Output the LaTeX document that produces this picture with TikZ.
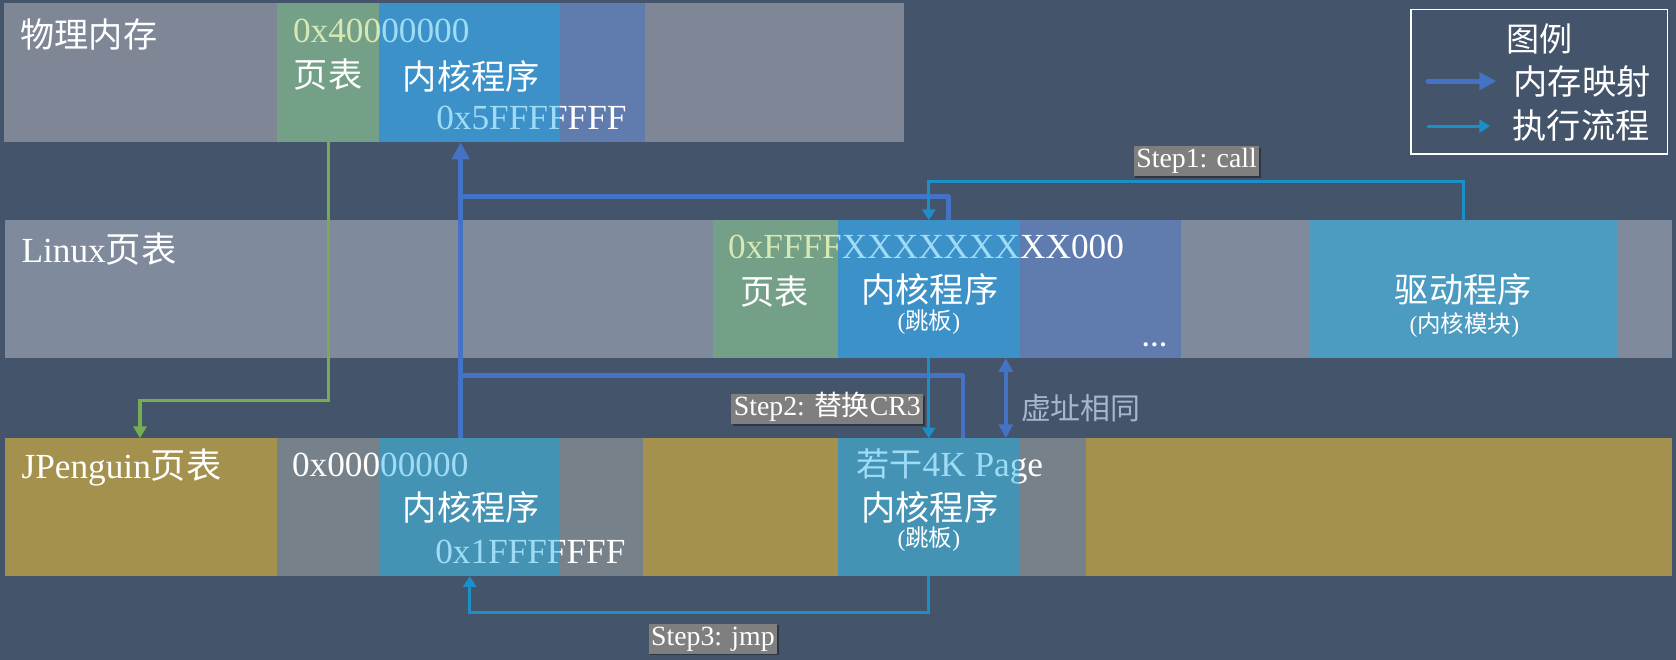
\documentclass[tikz,border=0pt]{standalone}
\usepackage{fontspec}
\setmainfont{Liberation Serif}
\newfontfamily\cjk{Noto Sans CJK SC}
\usetikzlibrary{arrows.meta,shadows}
\definecolor{bg}{HTML}{44546A}
\definecolor{bandtop}{HTML}{7F8696}
\definecolor{bandmid}{HTML}{7F8B9D}
\definecolor{ptgreen}{HTML}{74A088}
\definecolor{kblue}{HTML}{3C91C9}
\definecolor{kpurple}{HTML}{607CAF}
\definecolor{drvteal}{HTML}{4C9BC1}
\definecolor{gold}{HTML}{A4914E}
\definecolor{gray3}{HTML}{76818A}
\definecolor{teal3}{HTML}{4593B4}
\definecolor{mapc}{HTML}{4472C4}
\definecolor{flowc}{HTML}{1C8FC8}
\definecolor{greenline}{HTML}{78AC52}
\definecolor{paleyel}{HTML}{D6E9B3}
\definecolor{lblue}{HTML}{9EDCF6}
\definecolor{virt}{HTML}{A9B5CA}
\definecolor{stepgray}{HTML}{7F7F7F}
\newcommand\zh[1]{{\cjk #1}}
% block: name, x1, y1, x2, y2, colour
\newcommand\blk[6]{\node[blkbox,fill=#6,minimum width={(#4-#2)*1pt},minimum height={(#5-#3)*1pt}] (#1) at ({(#2+#4)/2},{(#3+#5)/2}) {};}
% text coloured by region: name, pos, text, x1, x2, c1, c2, c3
\newcommand\tricolor[8]{%
\begin{scope}\clip (0,0) rectangle (#4,617);\node[hexlab,text=#6] (#1a) at #2 {#3};\end{scope}
\begin{scope}\clip (#4,0) rectangle (#5,617);\node[hexlab,text=#7] (#1b) at #2 {#3};\end{scope}
\begin{scope}\clip (#5,0) rectangle (1568,617);\node[hexlab,text=#8] (#1c) at #2 {#3};\end{scope}}
\begin{document}
\begin{tikzpicture}[x=1pt,y=-1pt,
  blkbox/.style={inner sep=0pt,outer sep=0pt,draw=none},
  hexlab/.style={anchor=base west,inner sep=0pt,font=\fontsize{33}{38}\selectfont},
  zhbig/.style={inner sep=0pt,text=white,font=\cjk\fontsize{32}{36}\selectfont},
  zhsmall/.style={inner sep=0pt,text=white,font=\fontsize{22}{24}\selectfont},
  rowlab/.style={anchor=base west,inner sep=0pt,text=white,font=\fontsize{33}{38}\selectfont},
  steplab/.style={fill=stepgray,text=white,font=\fontsize{26}{28}\selectfont,inner xsep=2.5pt,inner ysep=2pt,text height=18pt,text depth=6pt,drop shadow={shadow xshift=1.5pt,shadow yshift=-1.5pt,fill=black,opacity=0.35}},
  mapline/.style={draw=mapc,line width=4.5pt},
  flowline/.style={draw=flowc,line width=3pt},
  maptip/.style={-{Triangle[length=16pt,width=16pt]}},
  flowtip/.style={-{Triangle[length=10pt,width=12pt]}}]
\useasboundingbox (0,0) rectangle (1568,617);
\fill[bg] (0,0) rectangle (1568,617);
% row 1: physical memory
\blk{r1}{4}{3}{846}{133}{bandtop}
\blk{r1pt}{259}{3}{355}{133}{ptgreen}
\blk{r1k}{355}{3}{524}{133}{kblue}
\blk{r1p}{524}{3}{603}{133}{kpurple}
% row 2: Linux page table
\blk{r2}{5}{206}{1564}{335}{bandmid}
\blk{r2pt}{667}{206}{784}{335}{ptgreen}
\blk{r2k}{784}{206}{954}{335}{kblue}
\blk{r2p}{954}{206}{1105}{335}{kpurple}
\blk{r2d}{1226}{206}{1513}{335}{drvteal}
% row 3: JPenguin page table
\blk{r3}{5}{410}{1564}{539}{gold}
\blk{r3g}{259}{410}{355}{539}{gray3}
\blk{r3k}{355}{410}{524}{539}{teal3}
\blk{r3g2}{524}{410}{602}{539}{gray3}
\blk{r3t}{784}{410}{954}{539}{teal3}
\blk{r3g3}{954}{410}{1016}{539}{gray3}
% row labels
\node[zhbig,anchor=west] (l1) at (19,32) {物理内存};
\node[rowlab] (l2) at (20,246) {Linux\zh{页表}};
\node[rowlab] (l3) at (20,448) {JPenguin\zh{页表}};
% row 1 texts
\tricolor{t40}{(274,40)}{0x40000000}{355}{1568}{paleyel}{lblue}{lblue}
\tricolor{t5f}{(408,121)}{0x5FFFFFFF}{524}{1568}{lblue}{white}{white}
\node[zhbig] (r1ptl) at (307,70) {页表};
\node[zhbig] (r1kl) at (441,72) {内核程序};
% row 2 texts
\tricolor{tff}{(681,242)}{0xFFFFXXXXXXXXX000}{784}{954}{paleyel}{lblue}{white}
\node[zhbig] (r2ptl) at (725,273) {页表};
\node[zhbig] (r2kl) at (870,271) {内核程序};
\node[zhsmall] (r2ks) at (869,301) {(\zh{跳板})};
\node[inner sep=0pt,text=white,anchor=base,font=\bfseries\fontsize{24}{26}\selectfont] (r2dots) at (1080,324) {…};
\node[zhbig] (r2dl) at (1369,271) {驱动程序};
\node[zhsmall] (r2ds) at (1370,304) {(\zh{内核模块})};
% row 3 texts
\tricolor{t00}{(273,446)}{0x00000000}{355}{1568}{white}{lblue}{lblue}
\tricolor{t1f}{(407,527)}{0x1FFFFFFF}{524}{1568}{lblue}{white}{white}
\node[zhbig] (r3kl) at (441,475) {内核程序};
\tricolor{t4k}{(801,446)}{\zh{\fontsize{31}{36}\selectfont 若干}4K Page}{954}{1568}{lblue}{white}{white}
\node[zhbig] (r3tl) at (870,475) {内核程序};
\node[zhsmall] (r3ts) at (869,504) {(\zh{跳板})};
% coordinates for connectors
\coordinate (kJ) at (431,410);
\coordinate (kP) at (431,133);
\coordinate (j1) at (431,184);
\coordinate (j1e) at (887,206);
\coordinate (j2) at (431,351);
\coordinate (j2e) at (901,410);
\coordinate (gEnd) at (131,410);
\coordinate (vTop) at (941,335);
\coordinate (vBot) at (941,410);
% green page-table link
\draw[draw=greenline,line width=3pt,-{Triangle[length=11pt,width=12pt]}] (r1pt.south) -- ++(0,242) -| (gEnd);
% memory mapping
\draw[mapline,maptip] (kJ) -- (kP);
\draw[mapline,line join=round] (j1) -| (j1e);
\draw[mapline,line join=round] (j2) -| (j2e);
\draw[draw=mapc,line width=3.5pt,{Triangle[length=13pt,width=13pt]}-{Triangle[length=13pt,width=13pt]}] (vTop) -- (vBot);
\node[inner sep=0pt,anchor=west,text=virt,font=\cjk\fontsize{28}{32}\selectfont] (virtl) at (955,382) {虚址相同};
% execution flow
\draw[flowline,flowtip] (r2d.north) -- ++(0,-36) -| (r2k.north);
\draw[flowline,flowtip] (r2k.south) -- (r3t.north);
\draw[flowline,flowtip] (r3t.south) -- ++(0,34) -| (r3k.south);
\node[steplab] (s1) at (1119.5,151) {Step1: call};
\node[steplab] (s2) at (774,383) {Step2: \zh{替换}CR3};
\node[steplab] (s3) at (667,597.5) {Step3: jmp};
% legend
\node[draw=white,line width=1.5pt,inner sep=0pt,minimum width=240pt,minimum height=135pt] (leg) at (1440,76.5) {};
\node[zhbig,font=\cjk\fontsize{31}{36}\selectfont] (legt) at (1440,36) {图例};
\coordinate (la1) at (1336,76);
\coordinate (la2) at (1400,76);
\coordinate (lb1) at (1336,118);
\coordinate (lb2) at (1394,118);
\draw[mapline,maptip,line cap=round] (la1) -- (la2);
\draw[flowline,flowtip,line cap=round] (lb1) -- (lb2);
\node[zhbig,anchor=west] (lega) at (1416,76) {内存映射};
\node[zhbig,anchor=west] (legb) at (1415,117) {执行流程};
\end{tikzpicture}
\end{document}
